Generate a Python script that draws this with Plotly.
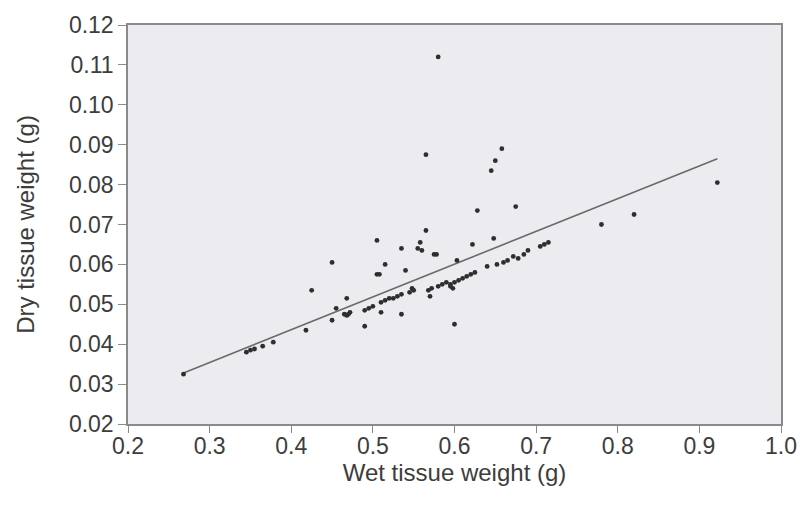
import plotly.graph_objects as go
import numpy as np

wet = [0.268, 0.345, 0.35, 0.355, 0.365, 0.378,
       0.418, 0.425, 0.45, 0.45, 0.455, 0.465, 0.468, 0.47, 0.468, 0.472,
       0.49, 0.49, 0.495, 0.50, 0.505, 0.505, 0.508, 0.51, 0.51, 0.515, 0.515,
       0.52, 0.525, 0.53, 0.535, 0.535, 0.535, 0.54, 0.545, 0.55, 0.548,
       0.555, 0.558, 0.56, 0.565, 0.565, 0.568, 0.57, 0.572, 0.575, 0.578,
       0.58, 0.58, 0.585, 0.59, 0.595, 0.595, 0.598, 0.60, 0.60, 0.603, 0.605,
       0.61, 0.615, 0.62, 0.622, 0.625, 0.628, 0.64, 0.645, 0.648, 0.65,
       0.652, 0.658, 0.66, 0.665, 0.672, 0.675, 0.678, 0.685, 0.69, 0.705,
       0.71, 0.715, 0.78, 0.82, 0.922]
dry = [0.0325, 0.038, 0.0385, 0.0388, 0.0395, 0.0405,
       0.0435, 0.0535, 0.0605, 0.046, 0.049, 0.0475, 0.0472, 0.0475, 0.0515, 0.048,
       0.0445, 0.0485, 0.049, 0.0495, 0.066, 0.0575, 0.0575, 0.048, 0.0505, 0.060, 0.051,
       0.0515, 0.0515, 0.052, 0.0525, 0.064, 0.0475, 0.0585, 0.053, 0.0535, 0.054,
       0.064, 0.0655, 0.0635, 0.0685, 0.0875, 0.0535, 0.052, 0.054, 0.0625, 0.0625,
       0.112, 0.0545, 0.055, 0.0555, 0.055, 0.0545, 0.054, 0.045, 0.0555, 0.061, 0.056,
       0.0565, 0.057, 0.0575, 0.065, 0.058, 0.0735, 0.0595, 0.0835, 0.0665, 0.086,
       0.060, 0.089, 0.0605, 0.061, 0.062, 0.0745, 0.0615, 0.0625, 0.0635, 0.0645,
       0.065, 0.0655, 0.070, 0.0725, 0.0805]

fit_slope = 0.0821
fit_intercept = 0.0108

x_ticks = [0.2, 0.3, 0.4, 0.5, 0.6, 0.7, 0.8, 0.9, 1.0]
x_labels = ["0.2", "0.3", "0.4", "0.5", "0.6", "0.7", "0.8", "0.9", "1.0"]
y_ticks = [0.02, 0.03, 0.04, 0.05, 0.06, 0.07, 0.08, 0.09, 0.10, 0.11, 0.12]
y_labels = ["0.02", "0.03", "0.04", "0.05", "0.06", "0.07", "0.08", "0.09", "0.10", "0.11", "0.12"]

line_x = np.array([min(wet), max(wet)])
line_y = fit_intercept + fit_slope * line_x

fig = go.Figure()
fig.add_trace(go.Scatter(x=line_x, y=line_y, mode="lines",
                         line=dict(color="#6a6a6a", width=1.6), showlegend=False))
fig.add_trace(go.Scatter(x=wet, y=dry, mode="markers",
                         marker=dict(color="#2e2e2e", size=4.8), showlegend=False))

font = dict(family="Liberation Sans, Arial, sans-serif", size=23, color="#3d3d3d")
fig.update_layout(
    width=809, height=505,
    margin=dict(l=128, r=19, t=24, b=81),
    paper_bgcolor="white", plot_bgcolor="#ebebf0",
    font=font,
)
fig.update_xaxes(range=[0.2, 1.0], tickvals=x_ticks, ticktext=x_labels,
                 tickfont=dict(size=23), ticklabelstandoff=-6,
                 showgrid=False, zeroline=False, showline=True, linecolor="#8a8a8a",
                 linewidth=1.5, mirror=True, ticks="outside", ticklen=7,
                 tickcolor="#8a8a8a",
                 title=dict(text="Wet tissue weight (g)", font=dict(size=24), standoff=0))
fig.update_yaxes(range=[0.02, 0.12], tickvals=y_ticks, ticktext=y_labels,
                 tickfont=dict(size=23),
                 showgrid=False, zeroline=False, showline=True, linecolor="#8a8a8a",
                 linewidth=1.5, mirror=True, ticks="outside", ticklen=8,
                 tickcolor="#8a8a8a",
                 title=dict(text="Dry tissue weight (g)", font=dict(size=24), standoff=27))
fig.write_html("out.html")
